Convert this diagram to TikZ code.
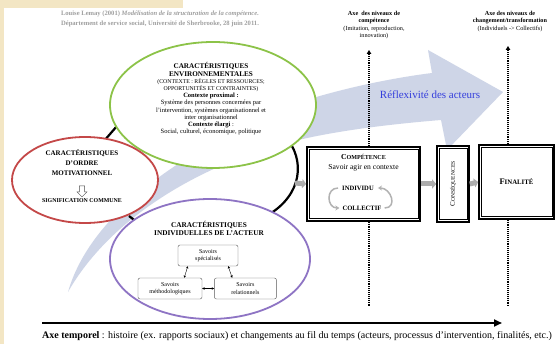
\documentclass[tikz,border=0pt]{standalone}
\usepackage{fontspec}
\setmainfont{Liberation Serif}
\usetikzlibrary{arrows.meta,positioning,shapes.geometric,shapes.arrows,calc}
\definecolor{beige}{RGB}{243,230,196}
\definecolor{ellgreen}{RGB}{140,195,72}
\definecolor{ellred}{RGB}{196,72,72}
\definecolor{ellpurple}{RGB}{142,116,196}
\definecolor{swoosh}{RGB}{206,213,231}
\definecolor{reflex}{RGB}{52,62,220}
\newcommand\fsz[2]{\fontsize{#1}{#2}\selectfont}
\newcommand\capsmall[2]{#1\scalebox{0.8}{#2}}

\begin{document}
\begin{tikzpicture}[x=1pt,y=-1pt,>=Stealth,font=\fsz{6}{7.2}]
    \tikzstyle{caract}=[ellipse,fill=white,line width=1.8pt,inner sep=0pt]
    \tikzstyle{txt}=[align=center,inner sep=0pt]
    \tikzstyle{savoir}=[draw=gray!70!black,fill=white,rounded corners=2pt,align=center,
      minimum height=21pt,inner sep=1pt,font=\fsz{6}{7.2}]
    \tikzstyle{dblbox}=[draw,line width=1.6pt,fill=white,inner sep=0pt]
    \tikzstyle{grayarrow}=[draw=gray!65,line width=5pt,-{Triangle[length=4pt,width=9pt]}]
    \tikzstyle{axisdots}=[line width=1.5pt,dash pattern=on 1pt off 0.9pt,
      -{Triangle[length=4pt,width=4.5pt]}]
    \tikzstyle{turnarrow}=[draw=gray!60,line width=1.5pt,-{Stealth[length=4pt,width=5pt]}]
    \tikzstyle{savoirlink}=[<->,>={Stealth[length=2.5pt,width=2.5pt]},thin]

    % page background
    \fill[beige] (0,0) rectangle (556,344);
    \fill[white] (4,8) rectangle (556,344);
    \fill[white] (183,0) rectangle (556,8);
    \useasboundingbox (0,0) rectangle (556,344);

    % reflexivity swoosh
    \fill[swoosh] (68,292) .. controls (90,215) and (180,150) .. (300,102)
      .. controls (350,86) and (400,77) .. (432,73) -- (428,50) -- (503,92)
      -- (447,150) -- (441,120) .. controls (380,125) and (330,132) .. (290,142)
      .. controls (200,165) and (110,218) .. (68,292) -- cycle;
    \node[txt,text=reflex,font=\fsz{11}{13}] (reflex) at (430,95) {Réflexivité des acteurs};

    % black ring behind the three ellipses
    \draw[line width=2.2pt] (104,141) -- (117,126);
    \draw[line width=2.2pt] (129,216) -- (142,226);
    \draw[line width=2.2pt] (285,136) .. controls (306,160) and (302,195) .. (268,215);

    \node[txt,text=gray!75,font=\fsz{6.6}{9.5}\bfseries] (cite) at (160,19)
      {Louise Lemay (2001) \textit{Modélisation de la structuration de la compétence.}\\
       Département de service social, Université de Sherbrooke, 28 juin 2011.};

    % the three ellipses
    \node[caract,draw=ellgreen,minimum width=206pt,minimum height=126pt] (env) at (213,105) {};
    \node[caract,draw=ellred,minimum width=146pt,minimum height=86pt] (mot) at (85,180) {};
    \node[caract,draw=ellpurple,minimum width=200pt,minimum height=120pt] (ind) at (210,259) {};

    \node[txt,font=\fsz{6.5}{7.2}] (envlbl) at (211,99)
      {{\fsz{7.2}{7.2}\bfseries CARACTÉRISTIQUES}\\ {\fsz{7.2}{7.2}\bfseries ENVIRONNEMENTALES}\\
       {\fsz{5.8}{7.2}(CONTEXTE : RÈGLES ET RESSOURCES;}\\
       {\fsz{5.8}{7.2}OPPORTUNITÉS ET CONTRAINTES)}\\
       \textbf{Contexte proximal :}\\ Système des personnes concernées par\\
       l’intervention, systèmes organisationnel et\\ inter organisationnel\\
       \textbf{Contexte élargi} :\\ Social, culturel, économique, politique};

    \node[txt,font=\fsz{7}{10}\bfseries] (motlbl) at (82,163)
      {CARACTÉRISTIQUES\\ D’ORDRE\\ MOTIVATIONNEL};
    \node[single arrow,draw=gray!60!black,fill=white,shape border rotate=270,
      minimum height=11pt,minimum width=10pt,single arrow head extend=1.5pt,
      inner sep=1.5pt] (motarrow) at (82,190) {};
    \node[txt,font=\fsz{5.9}{7}\bfseries] (signif) at (82,201) {SIGNIFICATION COMMUNE};

    \node[txt,font=\fsz{7.3}{8}\bfseries] (indlbl) at (209,228.5)
      {CARACTÉRISTIQUES\\ INDIVIDUELLES DE L’ACTEUR};
    \node[savoir,minimum width=60pt] (spec) at (208,255.5) {Savoirs\\ spécialisés};
    \node[savoir,minimum width=64pt] (meth) at (170,288.5) {Savoirs\\ méthodologiques};
    \node[savoir,minimum width=62pt,right=12pt of meth] (rel) {Savoirs\\ relationnels};
    \draw[savoirlink] ([xshift=10pt]spec.south west) -- ([xshift=-18pt]meth.north east);
    \draw[savoirlink] ([xshift=-10pt]spec.south east) -- ([xshift=18pt]rel.north west);
    \draw[savoirlink] (meth) -- (rel);

    % boxes
    \node[dblbox,minimum width=113pt,minimum height=74pt] (comp) at (363.5,184) {};
    \node[dblbox,minimum width=32pt,minimum height=76pt] (cons) at (453,184) {};
    \node[dblbox,minimum width=75pt,minimum height=74pt] (fin) at (516.5,182) {};
    \foreach \b in {comp,cons,fin}
      \draw[line width=0.6pt] ([shift={(3,3)}]\b.north west) rectangle ([shift={(-3,-3)}]\b.south east);

    \node[txt,font=\fsz{7.6}{10}] (complbl) at (363.5,163)
      {\textbf{\capsmall{C}{OMPÉTENCE}}\\ Savoir agir en contexte};
    \node[txt,font=\fsz{6.6}{7}\bfseries] (indiv) at (358,188) {INDIVIDU};
    \node[txt,font=\fsz{6.6}{7}\bfseries] (coll) at (362,208) {COLLECTIF};
    \draw[turnarrow] ([xshift=-4pt]indiv.west) to[out=180,in=180,looseness=1.6] ([xshift=-3pt]coll.west);
    \draw[turnarrow] ([xshift=3pt]coll.east) to[out=0,in=0,looseness=1.6] ([xshift=4pt]indiv.east);

    \node[txt,rotate=90,font=\fsz{7}{8}] (conslbl) at (cons.center) {\capsmall{C}{ONSÉQUENCES}};
    \node[txt,font=\fsz{8.5}{10}\bfseries] (finlbl) at (fin.center) {\capsmall{F}{INALITÉ}};

    \coordinate (arcout) at (295,183);
    \draw[grayarrow] (arcout) -- (comp.west);
    \draw[grayarrow] (comp.east) -- (cons.west);
    \draw[grayarrow] (cons.east) -- (fin.west);

    % axes
    \coordinate (top1) at (369,50);
    \coordinate (bot1) at (369,306);
    \coordinate (top2) at (508,46);
    \coordinate (bot2) at (508,306);
    \draw[axisdots] (top1 |- comp.north) -- (top1);
    \draw[axisdots,-] (top1 |- comp.south) -- (bot1);
    \draw[axisdots] (top2 |- fin.north) -- (top2);
    \draw[axisdots,-] (top2 |- fin.south) -- (bot2);

    \node[txt,anchor=north,font=\fsz{6.2}{7.5}] (axecomp) at (374,11)
      {\textbf{Axe\ \ des niveaux de}\\ \textbf{compétence}\\ (Imitation, reproduction,\\ innovation)};
    \node[txt,anchor=north,font=\fsz{6.2}{7.5}] (axechg) at (510,11)
      {\textbf{Axe des niveaux de}\\ \textbf{changement/transformation}\\ (Individuels -> Collectifs)};

    \coordinate (t0) at (42,323);
    \coordinate (t1) at (502,323);
    \draw[line width=2pt,-{Triangle[length=8pt,width=7pt]}] (t0) -- (t1);
    \node[txt,anchor=west,font=\fsz{10}{12}] (tlbl) at (42,336)
      {\textbf{Axe temporel} : histoire (ex. rapports sociaux) et changements au fil du temps (acteurs, processus d’intervention, finalités, etc.)};
\end{tikzpicture}
\end{document}
